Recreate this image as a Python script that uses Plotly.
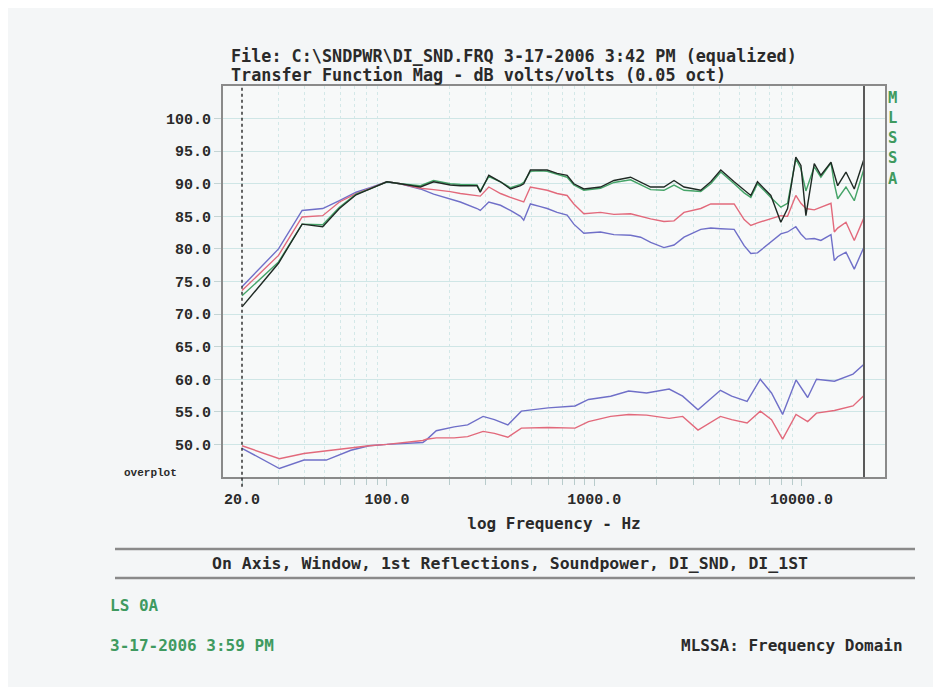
import plotly.graph_objects as go

# ---------------- data ----------------
F_UP = [20, 30, 39, 49, 59, 71, 83, 100,
        116, 145, 168, 202, 226, 272, 282, 310, 353, 394,
        441, 457, 492, 550, 593, 662, 740, 797, 891, 1072,
        1244, 1497, 1674, 1871, 2168, 2425, 2710, 3264, 3647, 4077,
        4728, 5284, 5690, 6127, 7109, 7940, 8555, 9379, 9925, 10490,
        11510, 12390, 13860, 14380, 14930, 16370, 17950, 20000]

ON_AXIS = [71.1, 77.8, 83.8, 83.4, 86.2, 88.3, 89.2, 90.3,
           90.0, 89.5, 90.3, 89.8, 89.7, 89.7, 88.7, 91.3, 90.3, 89.2,
           89.7, 90.0, 92.1, 92.1, 92.1, 91.6, 91.3, 90.0, 89.2, 89.5,
           90.5, 91.0, 90.3, 89.5, 89.5, 90.5, 89.5, 89.0, 90.3, 92.1,
           90.3, 89.0, 88.2, 90.3, 88.2, 84.1, 86.2, 94.1, 92.8, 85.1,
           93.1, 91.3, 93.3, 91.5, 89.7, 91.8, 89.2, 93.8]

WINDOW = [72.8, 78.0, 83.8, 83.7, 86.4, 88.4, 89.2, 90.3,
          90.0, 89.7, 90.5, 90.0, 89.9, 89.8, 88.9, 91.1, 90.3, 89.4,
          89.9, 90.2, 91.9, 92.0, 91.9, 91.4, 91.0, 89.8, 89.0, 89.3,
          90.2, 90.6, 89.9, 89.1, 89.0, 89.8, 89.0, 88.8, 90.0, 91.8,
          90.0, 88.6, 87.9, 90.0, 87.9, 86.4, 87.0, 93.8, 92.3, 88.9,
          92.6, 91.0, 93.2, 90.0, 87.7, 89.5, 87.4, 92.3]

FIRST_REFL = [73.6, 79.0, 84.9, 85.1, 87.2, 88.5, 89.3, 90.3,
              90.0, 89.3, 89.1, 88.8, 88.5, 88.2, 88.1, 89.5, 88.5, 87.9,
              87.4, 87.2, 89.5, 89.2, 89.0, 88.5, 88.2, 86.9, 85.4, 85.6,
              85.3, 85.4, 85.0, 84.6, 84.2, 84.3, 85.6, 86.2, 86.9, 86.9,
              86.9, 84.5, 83.6, 84.0, 84.6, 85.1, 85.0, 88.2, 87.0, 86.2,
              86.0, 86.4, 87.0, 82.6, 83.2, 84.1, 81.3, 84.8]

SOUNDPOWER = [74.2, 80.0, 85.9, 86.2, 87.4, 88.7, 89.4, 90.3,
              90.0, 89.2, 88.4, 87.7, 87.2, 86.2, 85.9, 87.2, 86.7, 85.9,
              85.0, 84.4, 86.9, 86.5, 86.2, 85.6, 85.2, 83.8, 82.4, 82.6,
              82.2, 82.1, 81.8, 81.0, 80.2, 80.6, 81.8, 83.0, 83.2, 83.1,
              83.0, 80.5, 79.3, 79.4, 81.0, 82.3, 82.6, 83.4, 82.3, 81.5,
              81.6, 81.3, 82.2, 78.2, 78.8, 79.5, 76.9, 80.3]

F_DI = [20, 30.3, 39.8, 51, 67, 82, 100, 149, 155, 173, 211, 245, 291, 330,
        383, 445, 599, 808, 938, 1200, 1465, 1788, 2298, 2670, 3165, 4060,
        4600, 5460, 6320, 7160, 8100, 9400, 10700, 11800, 14400, 17700, 20000]

DI_SND = [49.4, 46.3, 47.6, 47.6, 49.1, 49.8, 50.0, 50.3, 50.7, 52.1, 52.7,
          53.0, 54.3, 53.8, 53.0, 55.1, 55.6, 55.9, 56.9, 57.4, 58.2, 57.9,
          58.5, 57.4, 55.3, 58.3, 57.4, 56.6, 60.0, 57.9, 54.6, 59.9, 57.2,
          60.0, 59.7, 60.8, 62.3]

DI_1ST = [49.8, 47.8, 48.6, 49.0, 49.5, 49.8, 50.0, 50.6, 50.8, 51.0, 51.0,
          51.2, 52.0, 51.7, 51.1, 52.5, 52.6, 52.5, 53.5, 54.3, 54.6, 54.5,
          54.0, 54.3, 52.2, 54.3, 53.8, 53.3, 55.1, 53.8, 50.8, 54.6, 53.5,
          54.8, 55.2, 55.9, 57.5]

X_TICKS = [20, 100, 1000, 10000]
X_TICK_TEXT = ["20.0", "100.0", "1000.0", "10000.0"]
X_MINOR = [30, 40, 50, 60, 70, 80, 90,
           200, 300, 400, 500, 600, 700, 800, 900,
           2000, 3000, 4000, 5000, 6000, 7000, 8000, 9000]
Y_TICKS = [50, 55, 60, 65, 70, 75, 80, 85, 90, 95, 100]

# ---------------- layout geometry (page pixels) ----------------
OFF = 8                      # default body margin of the html page
W, H = 941 - OFF, 687 - OFF
L, R, T, B = 223, 885, 86, 477


def px(x):
    return (x - L) / (R - L)


def py(y):
    return (B - y) / (B - T)


BLACK = "#1f2a24"
GREEN = "#45a468"
RED = "#e2697b"
BLUE = "#6f6fc8"
TXT = "#2a2a2a"
GTXT = "#3f9a60"
HEAD = "DejaVu Sans Mono"
TICKF = "Liberation Mono"

fig = go.Figure()

line_w = 1.4
fig.add_trace(go.Scatter(x=F_DI, y=DI_SND, mode="lines", name="DI_SND",
                         line=dict(color=BLUE, width=line_w)))
fig.add_trace(go.Scatter(x=F_DI, y=DI_1ST, mode="lines", name="DI_1ST",
                         line=dict(color=RED, width=line_w)))
fig.add_trace(go.Scatter(x=F_UP, y=SOUNDPOWER, mode="lines", name="Soundpower",
                         line=dict(color=BLUE, width=line_w)))
fig.add_trace(go.Scatter(x=F_UP, y=FIRST_REFL, mode="lines", name="1st Reflections",
                         line=dict(color=RED, width=line_w)))
fig.add_trace(go.Scatter(x=F_UP, y=WINDOW, mode="lines", name="Window",
                         line=dict(color=GREEN, width=line_w)))
fig.add_trace(go.Scatter(x=F_UP, y=ON_AXIS, mode="lines", name="On Axis",
                         line=dict(color=BLACK, width=line_w)))

fig.update_layout(
    width=W, height=H,
    margin=dict(l=L - OFF, r=(W + OFF) - R, t=T - OFF, b=(H + OFF) - B, pad=0),
    paper_bgcolor="#f4f6f7",
    plot_bgcolor="#f7f9f9",
    showlegend=False,
    xaxis=dict(
        type="log",
        range=[1.2094, 4.4023],
        tickmode="array", tickvals=X_TICKS, ticktext=X_TICK_TEXT,
        ticks="outside", ticklen=7, tickcolor="#b8cccc", tickwidth=1,
        tickfont=dict(family=TICKF, size=15, color=TXT, weight="bold"),
        showgrid=False,
        minor=dict(tickvals=X_MINOR, ticks="outside", ticklen=6,
                   tickcolor="#b8cccc", showgrid=True, gridcolor="#d3e8e8",
                   griddash="dot", gridwidth=1),
        showline=True, linecolor="#8a8a8a", linewidth=2, mirror=True,
        zeroline=False,
        title=dict(text="log Frequency - Hz", standoff=10,
                   font=dict(family=HEAD, size=16, color=TXT, weight="bold")),
    ),
    yaxis=dict(
        range=[45, 105],
        tickmode="array", tickvals=Y_TICKS, tickformat=".1f",
        ticks="outside", ticklen=7, tickcolor="#c4d4d4",
        tickfont=dict(family=TICKF, size=15, color=TXT, weight="bold"),
        showgrid=True, gridcolor="#cfe6e6", gridwidth=1,
        showline=True, linecolor="#8a8a8a", linewidth=2, mirror=True,
        zeroline=False,
    ),
    shapes=[
        dict(type="line", xref="x", yref="paper", x0=20, x1=20, y0=-0.025, y1=1,
             line=dict(color="#333333", width=1.5, dash="dot")),
        dict(type="line", xref="x", yref="paper", x0=20000, x1=20000, y0=0, y1=1,
             line=dict(color="#5a5a5a", width=2)),
        dict(type="line", xref="paper", yref="paper", x0=px(115), x1=px(915),
             y0=py(549), y1=py(549), line=dict(color="#8a8a8a", width=2.5)),
        dict(type="line", xref="paper", yref="paper", x0=px(115), x1=px(915),
             y0=py(578), y1=py(578), line=dict(color="#8a8a8a", width=2.5)),
    ],
)

ann = [
    dict(x=px(229), y=py(56), xanchor="left", yanchor="middle",
         text="File: C:\\SNDPWR\\DI_SND.FRQ 3-17-2006 3:42 PM (equalized)",
         font=dict(family=HEAD, size=16.8, color=TXT, weight="bold")),
    dict(x=px(229), y=py(75), xanchor="left", yanchor="middle",
         text="Transfer Function Mag - dB volts/volts (0.05 oct)",
         font=dict(family=HEAD, size=16.8, color=TXT, weight="bold")),
    dict(x=px(179), y=py(473), xanchor="right", yanchor="middle",
         text="overplot",
         font=dict(family=TICKF, size=11, color=TXT, weight="bold")),
    dict(x=px(893), y=py(138), xanchor="center", yanchor="middle",
         text="M<br>L<br>S<br>S<br>A",
         font=dict(family=HEAD, size=15.5, color=GTXT, weight="bold")),
    dict(x=px(510), y=py(563), xanchor="center", yanchor="middle",
         text="On Axis, Window, 1st Reflections, Soundpower, DI_SND, DI_1ST",
         font=dict(family=HEAD, size=16.5, color=TXT, weight="bold")),
    dict(x=px(108), y=py(605), xanchor="left", yanchor="middle",
         text="LS 0A",
         font=dict(family=HEAD, size=16, color=GTXT, weight="bold")),
    dict(x=px(108), y=py(645), xanchor="left", yanchor="middle",
         text="3-17-2006 3:59 PM",
         font=dict(family=HEAD, size=16, color=GTXT, weight="bold")),
    dict(x=px(905), y=py(645), xanchor="right", yanchor="middle",
         text="MLSSA: Frequency Domain",
         font=dict(family=HEAD, size=16, color=TXT, weight="bold")),
]
for a in ann:
    a.update(xref="paper", yref="paper", showarrow=False)
fig.update_layout(annotations=ann)

fig.write_html("out.html")
